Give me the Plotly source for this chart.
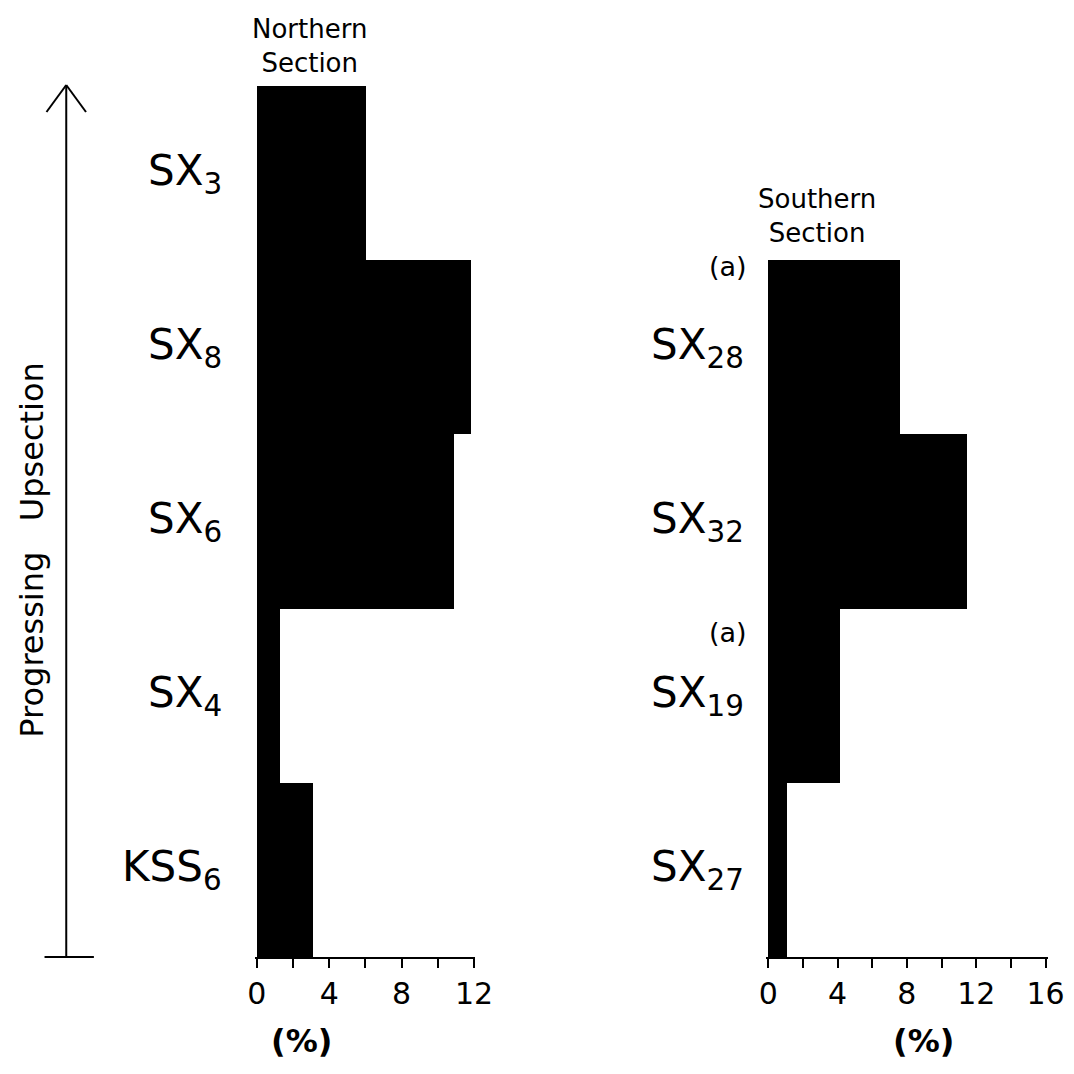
import plotly.graph_objects as go

# ---- data ----
north_labels = ["KSS", "SX", "SX", "SX", "SX"]
north_subs = ["6", "4", "6", "8", "3"]
north_values = [3.1, 1.25, 10.9, 11.8, 6.05]

south_labels = ["SX", "SX", "SX", "SX"]
south_subs = ["27", "19", "32", "28"]
south_sups = ["", "(a)", "", "(a)"]
south_values = [1.1, 4.15, 11.5, 7.6]

north_ticks = [0, 2, 4, 6, 8, 10, 12]
north_ticktext = ["0", "", "4", "", "8", "", "12"]
south_ticks = [0, 2, 4, 6, 8, 10, 12, 14, 16]
south_ticktext = ["0", "", "4", "", "8", "", "12", "", "16"]

PAGE = 1074
OFF = 8  # default body margin of the html page
W = H = PAGE - 2 * OFF
FONT = "DejaVu Sans"
XS, XO = 0.988, 3.2  # partial correction of the horizontal mapping


def px(x):
    p = (x - XO) / XS
    return min(1.0, max(0.0, (p - OFF) / W))


def py(y):
    return 1 - (y - OFF) / H


north_pos = [i + 0.5 for i in range(len(north_values))]
south_pos = [i + 0.5 for i in range(len(south_values))]

fig = go.Figure()
fig.add_trace(go.Bar(x=north_values, y=north_pos, orientation="h", width=1,
                     marker=dict(color="black", line=dict(width=0)),
                     xaxis="x", yaxis="y", showlegend=False))
fig.add_trace(go.Bar(x=south_values, y=south_pos, orientation="h", width=1,
                     marker=dict(color="black", line=dict(width=0)),
                     xaxis="x2", yaxis="y2", showlegend=False))

ydom = [py(957), py(86)]
axis_common = dict(showline=True, linecolor="black", linewidth=2, ticks="outside",
                   ticklen=9, tickwidth=2, tickcolor="black", showgrid=False,
                   zeroline=False, tickfont=dict(family=FONT, size=30, color="black"),
                   fixedrange=True)

# left axis: 0 at x=255, 12 at x=475 ; right axis: 0 at 773, 16 at 1054
l0, l1 = px(255), px(475)
r0, r1 = px(773), px(1054)
lsc = (l1 - l0) / 12
rsc = (r1 - r0) / 16
ld = [px(253), px(476)]
rd = [px(771), px(1056)]

fig.update_layout(
    width=W, height=H, margin=dict(l=0, r=0, t=0, b=0),
    paper_bgcolor="white", plot_bgcolor="white", bargap=0,
    xaxis=dict(domain=ld, range=[(ld[0] - l0) / lsc, (ld[1] - l0) / lsc], anchor="y",
               tickvals=north_ticks, ticktext=north_ticktext, **axis_common),
    yaxis=dict(domain=ydom, range=[0, 5], visible=False, fixedrange=True),
    xaxis2=dict(domain=rd, range=[(rd[0] - r0) / rsc, (rd[1] - r0) / rsc], anchor="y2",
                tickvals=south_ticks, ticktext=south_ticktext, **axis_common),
    yaxis2=dict(domain=ydom, range=[0, 5], visible=False, fixedrange=True),
)

ann = []
lab_font = dict(family=FONT, size=42, color="black")
for lab, sub, y in zip(north_labels, north_subs, north_pos):
    ann.append(dict(text=f"{lab}<sub>{sub}</sub>", xref="paper", yref="y", x=px(222), y=y,
                    xanchor="right", yanchor="middle", showarrow=False, font=lab_font))
sup_y_pix = {"28": 266, "19": 632}
for lab, sub, sup, y in zip(south_labels, south_subs, south_sups, south_pos):
    ann.append(dict(text=f"{lab}<sub>{sub}</sub>", xref="paper", yref="y2", x=px(652), y=y,
                    xanchor="left", yanchor="middle", showarrow=False, font=lab_font))
    if sup:
        ann.append(dict(text=sup, xref="paper", yref="paper", x=px(732), y=py(sup_y_pix[sub]),
                        xanchor="center", yanchor="middle", showarrow=False,
                        font=dict(family=FONT, size=27, color="black")))

title_font = dict(family=FONT, size=26, color="black")
ann.append(dict(text="Northern<br>Section", xref="paper", yref="paper", x=px(308), y=py(12),
                xanchor="center", yanchor="top", showarrow=False, font=title_font))
ann.append(dict(text="Southern<br>Section", xref="paper", yref="paper", x=px(822), y=py(250),
                xanchor="center", yanchor="bottom", showarrow=False, font=title_font))

pct_font = dict(family=FONT, size=32, color="black")
ann.append(dict(text="<b>(%)</b>", xref="paper", yref="paper", x=px(300), y=py(1041),
                xanchor="center", yanchor="middle", showarrow=False, font=pct_font))
ann.append(dict(text="<b>(%)</b>", xref="paper", yref="paper", x=px(930), y=py(1041),
                xanchor="center", yanchor="middle", showarrow=False, font=pct_font))

ann.append(dict(text="Progressing   Upsection", xref="paper", yref="paper", x=px(27), y=py(550),
                xanchor="center", yanchor="middle", textangle=-90, showarrow=False,
                font=dict(family=FONT, size=32, color="black")))
fig.update_layout(annotations=ann)

line = dict(color="black", width=2)
shapes = [
    dict(type="line", xref="paper", yref="paper", x0=px(62), y0=py(957), x1=px(62), y1=py(86), line=line),
    dict(type="line", xref="paper", yref="paper", x0=px(42), y0=py(112), x1=px(62), y1=py(85), line=line),
    dict(type="line", xref="paper", yref="paper", x0=px(62), y0=py(85), x1=px(82), y1=py(112), line=line),
    dict(type="line", xref="paper", yref="paper", x0=px(40), y0=py(957), x1=px(90), y1=py(957), line=line),
]
fig.update_layout(shapes=shapes)

fig.write_html("out.html")
